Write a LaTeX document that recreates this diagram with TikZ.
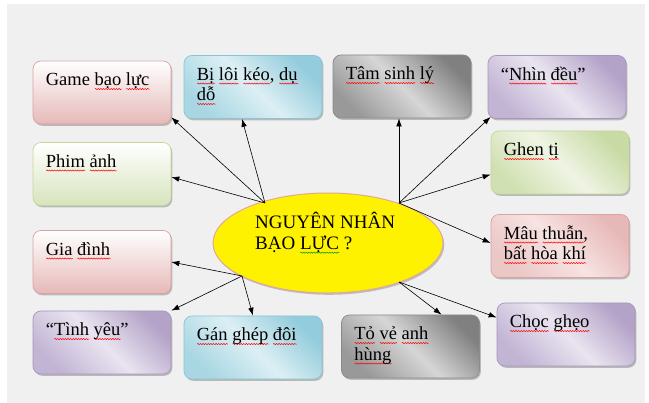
\documentclass[tikz,border=0pt]{standalone}
\usepackage{fontspec}
\setmainfont{Liberation Serif}
\usetikzlibrary{arrows.meta,shapes.geometric,shadows,calc,decorations.pathmorphing}

\definecolor{bggray}{HTML}{F0F0F0}
\definecolor{pinkB}{HTML}{E6B9B8}
\definecolor{pinkD}{HTML}{D9A3A2}
\definecolor{pinkM}{HTML}{F6E3E2}
\definecolor{greenB}{HTML}{D7E4BD}
\definecolor{greenT}{HTML}{C9DBA5}
\definecolor{greenM}{HTML}{EFF4E4}
\definecolor{greenD}{HTML}{C4D79B}
\definecolor{blueT}{HTML}{93CCDC}
\definecolor{blueM}{HTML}{DCEFF4}
\definecolor{blueB}{HTML}{A8D7E3}
\definecolor{blueD}{HTML}{8CC4D4}
\definecolor{grayT}{HTML}{808080}
\definecolor{grayM}{HTML}{D6D6D6}
\definecolor{grayD}{HTML}{8A8A8A}
\definecolor{purT}{HTML}{B4A3C8}
\definecolor{purM}{HTML}{E9E4F0}
\definecolor{purB}{HTML}{C2B4D4}
\definecolor{purD}{HTML}{A797BD}
\definecolor{ellD}{HTML}{E2A898}

\newsavebox\sqbox
\newcommand{\squig}[2]{\leavevmode\sbox\sqbox{#2}\rlap{\smash{\tikz[baseline=0pt]\draw[#1, line width=0.5pt, decorate, decoration={snake, amplitude=0.6pt, segment length=2.6pt}] (0pt,-3.2pt) -- (\the\wd\sqbox,-3.2pt);}}\usebox\sqbox}
\newcommand{\sqr}[1]{\squig{red}{#1}}
\newcommand{\sqgr}[1]{\squig{green!60!black}{#1}}
\newcommand{\bx}[1]{\parbox[t]{112pt}{\raggedright\rule{0pt}{16pt}#1}}

\tikzset{
  box/.style={rounded corners=8pt, minimum width=138pt, minimum height=63pt, inner sep=0pt, line width=0.7pt,
    drop shadow={shadow xshift=1.3pt, shadow yshift=-1.8pt, fill=black!45, opacity=0.55}},
  txt/.style={anchor=north west, inner xsep=13pt, inner ysep=9pt, font=\fontsize{18.5}{20.5}\selectfont},
  pinkV/.style={box, draw=pinkD, top color=white, bottom color=pinkB},
  greenV/.style={box, draw=greenD, top color=white, bottom color=greenB},
  blueX/.style={box, draw=blueD, top color=blueT, bottom color=blueB, middle color=blueM, shading angle=-45},
  grayX/.style={box, draw=grayD, top color=grayT, bottom color=grayT!80!white, middle color=grayM, shading angle=-45},
  purX/.style={box, draw=purD, top color=purT, bottom color=purB, middle color=purM, shading angle=-45},
  pinkX/.style={box, draw=pinkD, top color=pinkB, bottom color=pinkB!80!white, middle color=pinkM, shading angle=-45},
  greenX/.style={box, draw=greenD, top color=greenT, bottom color=greenT!85!white, middle color=greenM, shading angle=-45},
  ellstyle/.style={ellipse, draw=ellD, line width=1pt, fill=yellow, minimum width=230pt, minimum height=100pt, inner sep=0pt,
    drop shadow={shadow xshift=1.3pt, shadow yshift=-1.8pt, fill=black!45, opacity=0.5}},
  ctextstyle/.style={anchor=base west, inner sep=0pt, font=\fontsize{19}{21}\selectfont},
  conn/.style={-{Latex[length=8pt,width=5.5pt]}, line width=0.6pt, black}
}

\begin{document}
\begin{tikzpicture}[x=1pt,y=-1pt]
\useasboundingbox (0,0) rectangle (649,403);
\fill[bggray] (7,4) rectangle (645,403);

% boxes
\node[pinkV]  (game)  at (102,92.5)  {};
\node[blueX]  (biloi) at (253,87)    {};
\node[grayX]  (tam)   at (402,86.5)  {};
\node[purX]   (nhin)  at (557,87)    {};
\node[greenV] (phim)  at (102,174)   {};
\node[greenX] (ghen)  at (560,162.5) {};
\node[pinkV]  (gia)   at (102,262)   {};
\node[pinkX]  (mau)   at (560,246)   {};
\node[purX]   (tinh)  at (102,342.5) {};
\node[blueX]  (gan)   at (253,347.5) {};
\node[grayX]  (tove)  at (410.5,346.5) {};
\node[purX]   (choc)  at (566,334.5) {};

% box texts
\node[txt] (gameT)  at (game.north west)  {\bx{Game \sqr{bạo} \sqr{lực}}};
\node[txt] (biloiT) at (biloi.north west) {\bx{\sqr{Bị} \sqr{lôi} \sqr{kéo}, \sqr{dụ}\\\sqr{dỗ}}};
\node[txt] (tamT)   at (tam.north west)   {\bx{\sqr{Tâm} \sqr{sinh} \sqr{lý}}};
\node[txt] (nhinT)  at (nhin.north west)  {\bx{“\sqr{Nhìn} \sqr{đều}”}};
\node[txt] (phimT)  at (phim.north west)  {\bx{\sqr{Phim} \sqr{ảnh}}};
\node[txt] (ghenT)  at (ghen.north west)  {\bx{\sqr{Ghen} \sqr{tị}}};
\node[txt] (giaT)   at (gia.north west)   {\bx{\sqr{Gia} \sqr{đình}}};
\node[txt] (mauT)   at (mau.north west)   {\bx{\sqr{Mâu} \sqr{thuẫn},\\\sqr{bất} \sqr{hòa} \sqr{khí}}};
\node[txt] (tinhT)  at (tinh.north west)  {\bx{“\sqr{Tình} \sqr{yêu}”}};
\node[txt] (ganT)   at (gan.north west)   {\bx{\sqr{Gán} \sqr{ghép} \sqr{đôi}}};
\node[txt] (toveT)  at (tove.north west)  {\bx{\sqr{Tỏ} \sqr{vẻ} \sqr{anh}\\\sqr{hùng}}};
\node[txt] (chocT)  at (choc.north west)  {\bx{\sqr{Chọc} \sqr{ghẹo}}};

% centre
\node[ellstyle] (ell) at (328,243) {};
\node[ctextstyle] (ctext) at (255,228.5) {\parbox[t]{170pt}{\rule{0pt}{15pt}NGUYÊN NHÂN\\BẠO \sqgr{LỰC} ?}};

% hubs
\coordinate (hubUL) at (265,203);
\coordinate (hubUR) at (399,203);
\coordinate (hubLL) at (242,276);
\coordinate (hubLR) at (399,282);

% connectors
\draw[conn] (hubUL) -- ($(game.south east)+(0,-7)$);
\draw[conn] (hubUL) -- ($(biloi.south)+(-11,0)$);
\draw[conn] (hubUL) -- ($(phim.east)+(0,3)$);
\draw[conn] (hubUR) -- ($(tam.south)+(-3,0)$);
\draw[conn] (hubUR) -- ($(nhin.south west)+(3,-2)$);
\draw[conn] (hubUR) -- ($(ghen.west)+(0,12)$);
\draw[conn] (hubUR) -- ($(mau.west)+(0,-3)$);
\draw[conn] (hubLL) -- (gia.east);
\draw[conn] (hubLL) -- (tinh.north east);
\draw[conn] (hubLL) -- (gan.north);
\draw[conn] (hubLR) -- ($(tove.north)+(31,0)$);
\draw[conn] (hubLR) -- ($(choc.west)+(0,-17)$);
\end{tikzpicture}
\end{document}
